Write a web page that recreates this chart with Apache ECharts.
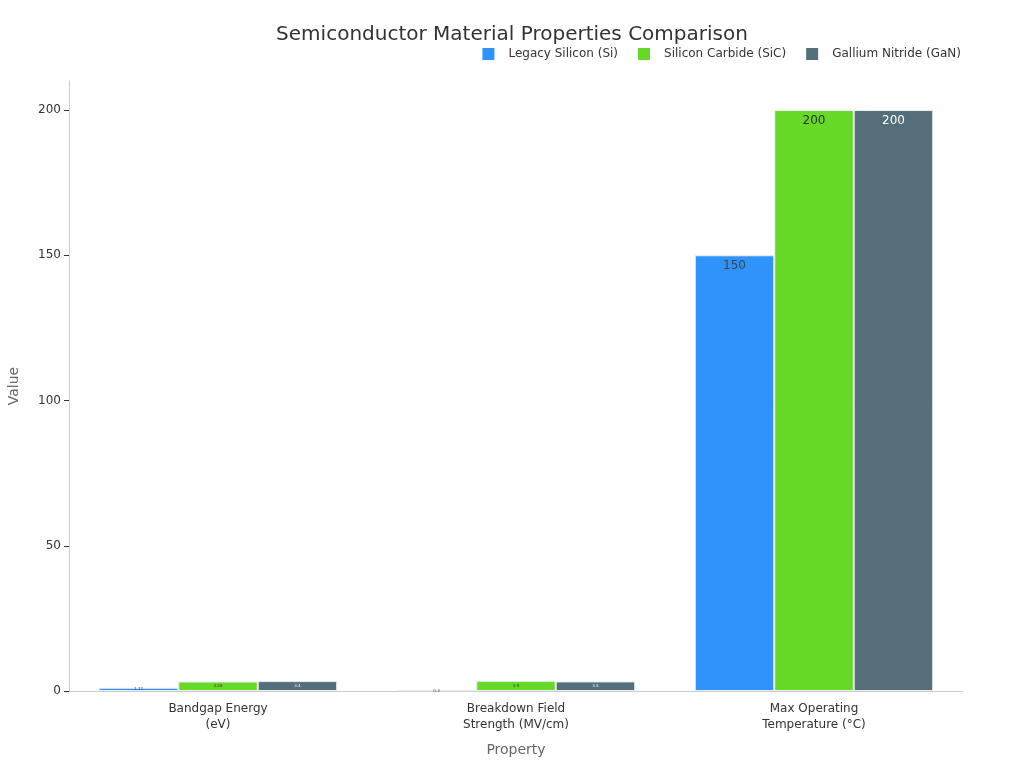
<!DOCTYPE html>
<html>
<head>
<meta charset="utf-8">
<script src="https://cdn.jsdelivr.net/npm/echarts@6/dist/echarts.min.js"></script>
<style>
  html, body { margin: 0; padding: 0; background: #fff; }
  #main { width: 1024px; height: 768px; }
</style>
</head>
<body>
<div id="main"></div>
<script>
var categories = ['Bandgap Energy\n(eV)', 'Breakdown Field\nStrength (MV/cm)', 'Max Operating\nTemperature (°C)'];
var siValues = [1.12, 0.3, 150];
var sicValues = [3.26, 3.5, 200];
var ganValues = [3.4, 3.3, 200];
var seriesNames = ['Legacy Silicon (Si)', 'Silicon Carbide (SiC)', 'Gallium Nitride (GaN)'];
var colors = ['#2E93FA', '#66DA26', '#546E7A'];
var labelColors = ['#37474F', '#333333', '#ffffff'];

// tiny bars get tiny labels, like the reference
function toData(values) {
  return values.map(function (v) {
    if (v < 10) {
      return { value: v, label: { fontSize: 4, position: 'inside', distance: 0 } };
    }
    return v;
  });
}

function makeSeries(name, values, i) {
  return {
    name: name,
    type: 'bar',
    data: toData(values),
    barGap: '0%',
    barCategoryGap: '20%',
    itemStyle: {
      color: colors[i],
      borderColor: '#e8eef2',
      borderWidth: 1
    },
    label: {
      show: true,
      position: 'insideTop',
      distance: 5,
      color: labelColors[i],
      fontSize: 12,
      fontFamily: 'DejaVu Sans'
    }
  };
}

var chart = echarts.init(document.getElementById('main'));

var option = {
  backgroundColor: '#ffffff',
  textStyle: { fontFamily: 'DejaVu Sans' },
  title: {
    text: 'Semiconductor Material Properties Comparison',
    left: 'center',
    top: 20,
    textStyle: {
      fontSize: 20,
      fontWeight: 'normal',
      color: '#333333',
      fontFamily: 'DejaVu Sans'
    }
  },
  legend: {
    data: seriesNames,
    right: 58,
    top: 43,
    itemWidth: 12,
    itemHeight: 12,
    itemGap: 20,
    icon: 'rect',
    itemStyle: { borderWidth: 0 },
    textStyle: { fontSize: 12, color: '#333333', padding: [0, 0, 0, 9] }
  },
  grid: {
    left: 69,
    right: 61,
    top: 81,
    bottom: 77,
    outerBoundsMode: 'none'
  },
  xAxis: {
    type: 'category',
    data: categories,
    name: 'Property',
    nameLocation: 'middle',
    nameGap: 52,
    nameTextStyle: { fontSize: 14, color: '#666666' },
    axisLine: { lineStyle: { color: '#cccccc' } },
    axisTick: { alignWithLabel: true, lineStyle: { color: '#333333' } },
    axisLabel: { color: '#333333', fontSize: 12, lineHeight: 16, margin: 10 }
  },
  yAxis: {
    type: 'value',
    min: 0,
    max: 210,
    interval: 50,
    name: 'Value',
    nameLocation: 'middle',
    nameGap: 48,
    nameTextStyle: { fontSize: 14, color: '#666666' },
    axisLine: { show: true, lineStyle: { color: '#cccccc' } },
    axisTick: { show: true, lineStyle: { color: '#333333' } },
    axisLabel: { color: '#333333', fontSize: 12, showMaxLabel: false },
    splitLine: { show: false }
  },
  series: [
    makeSeries(seriesNames[0], siValues, 0),
    makeSeries(seriesNames[1], sicValues, 1),
    makeSeries(seriesNames[2], ganValues, 2)
  ]
};

chart.setOption(option);
</script>
</body>
</html>
